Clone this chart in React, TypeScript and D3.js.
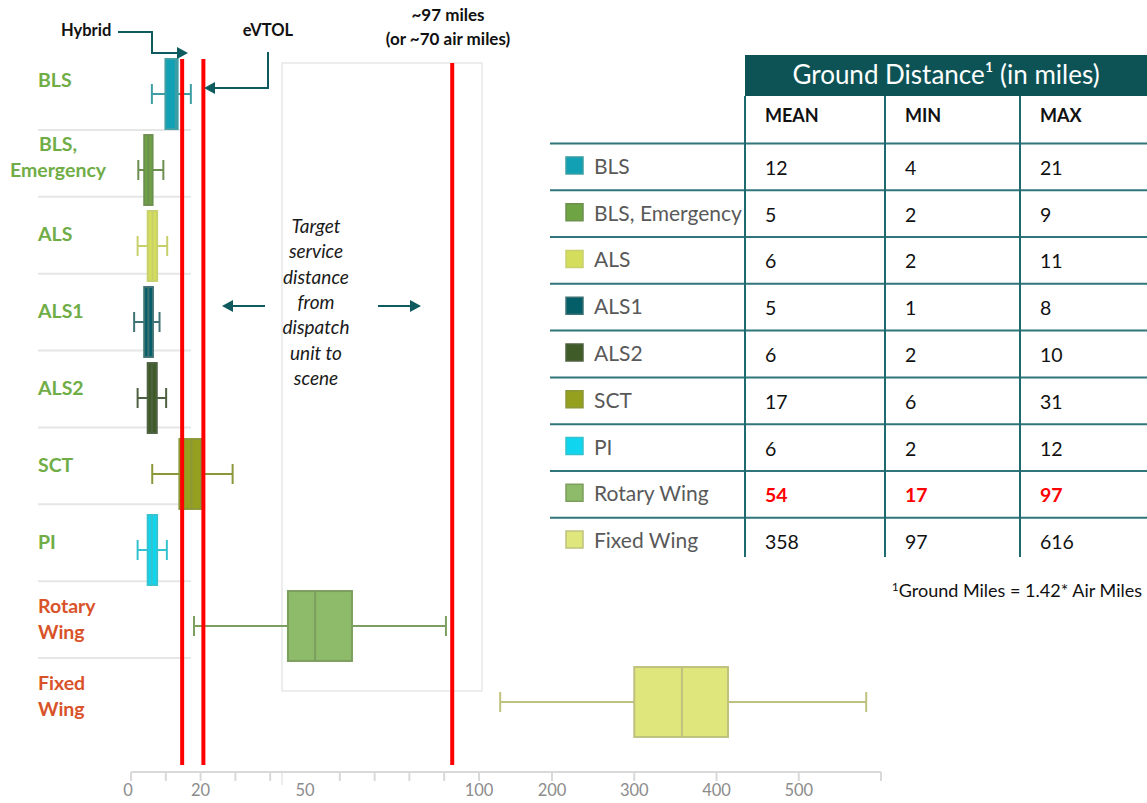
import * as d3 from "d3";

// categories, box stats (in ground miles)
const categories = ["BLS", "BLS, Emergency", "ALS", "ALS1", "ALS2", "SCT", "PI", "Rotary Wing", "Fixed Wing"];
const labelLines = [["BLS"], ["BLS,", "Emergency"], ["ALS"], ["ALS1"], ["ALS2"], ["SCT"], ["PI"], ["Rotary", "Wing"], ["Fixed", "Wing"]];
const boxMin = [6, 2.1, 1.9, 0.9, 1.9, 6.1, 1.9, 18.1, 129];
const boxQ1 = [9.9, 3.8, 4.8, 3.8, 4.8, 13.9, 4.8, 45.1, 300];
const boxMedian = [12.9, 5, 6.2, 5, 6, 17.4, 6, 52.9, 358];
const boxQ3 = [13.4, 6.2, 7.5, 6.3, 7.4, 20.1, 7.5, 63.5, 414];
const boxMax = [17.2, 9.3, 10.4, 8.2, 10.1, 29.2, 10.3, 90.5, 582];

// table values
const tableMean = [12, 5, 6, 5, 6, 17, 6, 54, 358];
const tableMin = [4, 2, 2, 1, 2, 6, 2, 17, 97];
const tableMax = [21, 9, 11, 8, 10, 31, 12, 97, 616];
const highlightRow = "Rotary Wing";
const tableColumns = ["MEAN", "MIN", "MAX"];

// reference lines: hybrid, eVTOL, ~97 miles
const refLines = [14.7, 20.8, 92.3];

// axis
const tickValues = [0, 10, 20, 30, 40, 60, 70, 80, 90, 100, 200, 300, 400, 500, 600];
const tickLabels = [0, 20, 50, 100, 200, 300, 400, 500];

const fills = ["#12A0B4", "#6FA445", "#D4DE5C", "#045E68", "#3F5C28", "#95A01E", "#0FD6EE", "#8DBB69", "#DFE67B"];
const strokes = ["#3D9EA4", "#6D8F50", "#C8D06C", "#3E7274", "#4E6140", "#8C973A", "#35C2CF", "#7C9E5E", "#BFC27E"];
const labelColors = ["#70AD47", "#70AD47", "#70AD47", "#70AD47", "#70AD47", "#70AD47", "#70AD47", "#D9532A", "#D9532A"];

const TEAL = "#0E5A5E";
const FONT = "Lato, 'Open Sans', sans-serif";

export default function App() {
  const x = d3.scaleLinear().domain([0, 100, 200, 600]).range([131, 479, 552, 881]);
  const yBox = d3.scaleBand().domain(categories).range([56, 740]).paddingInner(0.08).paddingOuter(0.04);
  const yLabel = d3.scaleBand().domain(categories).range([43, 735]);
  const yRow = d3.scaleBand().domain(categories).range([143.6, 564.4]);
  const colX = [745, 885, 1020];
  const capH = 10;

  return (
    <svg width={1147} height={803} style={{ position: "absolute", left: 0, top: 0, background: "#fff" }} fontFamily={FONT}>
      {/* category labels + separators */}
      {categories.map((c, i) => {
        const cy = yLabel(c)! + yLabel.bandwidth() / 2;
        const centered = i === 1;
        const n = labelLines[i].length;
        return (
          <g key={c}>
            {labelLines[i].map((t, j) => (
              <text key={t} x={centered ? 58 : 38} y={cy + (j - (n - 1) / 2) * 26 + 6}
                textAnchor={centered ? "middle" : "start"} fontSize={19.5} fontWeight={700} fill={labelColors[i]}>{t}</text>
            ))}
            {i > 0 && <line x1={38} x2={191} y1={yLabel(c)! + (i === 1 ? 10 : 0)} y2={yLabel(c)! + (i === 1 ? 10 : 0)} stroke="#E6E6E6" strokeWidth={2} />}
          </g>
        );
      })}

      {/* target service distance frame */}
      <rect x={282} y={63} width={200} height={628} fill="none" stroke="#DCDCDC" strokeWidth={1} />
      {["Target", "service", "distance", "from", "dispatch", "unit to", "scene"].map((t, i) => (
        <text key={t} x={316} y={233 + i * 25.3} textAnchor="middle" fontSize={19} fontStyle="italic" fill="#1A1A1A">{t}</text>
      ))}
      <line x1={265} x2={230} y1={306} y2={306} stroke={TEAL} strokeWidth={2} />
      <path d="M222,306 L233,300 L233,312 Z" fill={TEAL} />
      <line x1={378} x2={412} y1={306} y2={306} stroke={TEAL} strokeWidth={2} />
      <path d="M421,306 L410,300 L410,312 Z" fill={TEAL} />

      {/* box plots */}
      {categories.map((c, i) => {
        const y0 = yBox(c)!;
        const h = yBox.bandwidth();
        const cy = y0 + h / 2;
        return (
          <g key={c}>
            <line x1={x(boxMin[i])} x2={x(boxQ1[i])} y1={cy} y2={cy} stroke={strokes[i]} strokeWidth={2} />
            <line x1={x(boxQ3[i])} x2={x(boxMax[i])} y1={cy} y2={cy} stroke={strokes[i]} strokeWidth={2} />
            <line x1={x(boxMin[i])} x2={x(boxMin[i])} y1={cy - capH} y2={cy + capH} stroke={strokes[i]} strokeWidth={2} />
            <line x1={x(boxMax[i])} x2={x(boxMax[i])} y1={cy - capH} y2={cy + capH} stroke={strokes[i]} strokeWidth={2} />
            <rect x={x(boxQ1[i])} y={y0} width={x(boxQ3[i]) - x(boxQ1[i])} height={h}
              fill={fills[i]} stroke={strokes[i]} strokeWidth={2} />
            <line x1={x(boxMedian[i])} x2={x(boxMedian[i])} y1={y0} y2={y0 + h} stroke={strokes[i]} strokeWidth={2} />
          </g>
        );
      })}

      {/* red reference lines */}
      {refLines.map((v, i) => (
        <line key={i} x1={x(v)} x2={x(v)} y1={i === 2 ? 63 : 59} y2={765} stroke="#FF0000" strokeWidth={4} />
      ))}

      {/* annotations */}
      <text x={61} y={36} fontSize={16.5} fontWeight={700} fill="#111">Hybrid</text>
      <path d="M118,32 H152 V53 H178" fill="none" stroke={TEAL} strokeWidth={2} />
      <path d="M188,53 L177,47 L177,59 Z" fill={TEAL} />
      <text x={268} y={36} textAnchor="middle" fontSize={16.5} fontWeight={700} fill="#111">eVTOL</text>
      <path d="M268,52 V88 H214" fill="none" stroke={TEAL} strokeWidth={2} />
      <path d="M204,88 L215,82 L215,94 Z" fill={TEAL} />
      <text x={448} y={21} textAnchor="middle" fontSize={17} fontWeight={700} fill="#111">~97 miles</text>
      <text x={448} y={45} textAnchor="middle" fontSize={17} fontWeight={700} fill="#111">(or ~70 air miles)</text>

      {/* x axis */}
      <line x1={x(0)} x2={x(600)} y1={772} y2={772} stroke="#D9D9D9" strokeWidth={2} />
      {tickValues.map((t) => (
        <line key={t} x1={x(t)} x2={x(t)} y1={772} y2={781} stroke="#D9D9D9" strokeWidth={2} />
      ))}
      <line x1={282} x2={282} y1={772} y2={785} stroke="#D9D9D9" strokeWidth={1} />
      {tickLabels.map((t) => (
        <text key={t} x={t === 0 ? x(t) - 3 : x(t)} y={796} textAnchor="middle" fontSize={16.5} fill="#8C8C8C">{t}</text>
      ))}

      {/* table */}
      <rect x={745} y={55} width={402} height={41} fill="#0D5356" />
      <text x={946} y={84} textAnchor="middle" fontSize={26} fill="#fff">Ground Distance¹ (in miles)</text>
      {tableColumns.map((c, j) => (
        <text key={c} x={colX[j] + 20} y={122} fontSize={18} fontWeight={700} fill="#111">{c}</text>
      ))}
      {categories.map((c) => (
        <line key={c} x1={550} x2={1147} y1={yRow(c)!} y2={yRow(c)!} stroke="#2F7579" strokeWidth={2} />
      ))}
      {colX.map((cx) => (
        <line key={cx} x1={cx} x2={cx} y1={96} y2={557} stroke="#1F6A6E" strokeWidth={2} />
      ))}
      {categories.map((c, i) => {
        const cy = yRow(c)! + yRow.bandwidth() / 2;
        const hl = c === highlightRow;
        const vals = [tableMean[i], tableMin[i], tableMax[i]];
        return (
          <g key={c}>
            <rect x={566} y={cy - 10} width={17} height={17} fill={fills[i]} stroke={strokes[i]} strokeWidth={1.5} />
            <text x={594} y={cy + 7} fontSize={21} fill="#595959">{c}</text>
            {vals.map((v, j) => (
              <text key={j} x={colX[j] + 20} y={cy + 8} fontSize={19.5} fontWeight={hl ? 700 : 400}
                fill={hl ? "#FF0000" : "#111"}>{v}</text>
            ))}
          </g>
        );
      })}
      <text x={1142} y={597} textAnchor="end" fontSize={18} fill="#111">
        <tspan fontSize={12} dy={-6}>1</tspan>
        <tspan dy={6}>Ground Miles = 1.42* Air Miles</tspan>
      </text>
    </svg>
  );
}
